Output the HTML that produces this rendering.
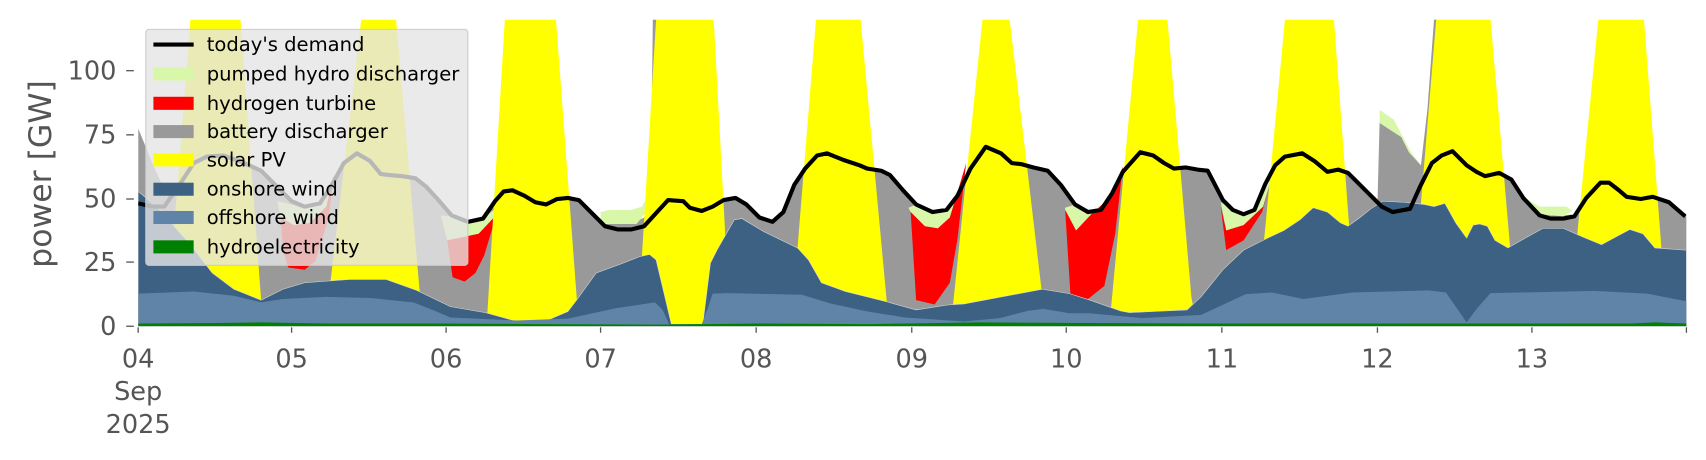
<!DOCTYPE html>
<html><head><meta charset="utf-8"><style>html,body{margin:0;padding:0;background:#fff}svg{display:block}</style></head>
<body>
<svg width="1706" height="460" viewBox="0 0 1568 423" preserveAspectRatio="none" xmlns="http://www.w3.org/2000/svg" font-family="DejaVu Sans, Liberation Sans, sans-serif">
<defs><clipPath id="c"><rect x="127" y="18" width="1423" height="282"/></clipPath></defs>
<g clip-path="url(#c)">
<polygon fill="#999999" points="127,118 140,150 151,175 165,168 178,150 190,144 205,143 220,148 240,157 255,172 268,185 280,190 294,187 305,170 316,150 328,141 340,148 350,160 358,161 370,162 382,164 392,172 403,184 415,198 430,204 444,201 455,185 463,176 471,175 482,180 492,186 502,188 512,183 522,182 532,184 544,196 556,206 568,206 580,206 592,200 598,185 600,18 604,18 614,184 628,185 634,191 645,194 655,190 665,184 676,182 686,188 698,200 710,204 720,195 730,170 740,155 751,143 760,141 775,147 790,152 797,155 810,157 818,161 830,175 842,188 857,195 870,193 880,180 892,155 906,135 920,141 930,150 939,151 950,154 963,157 975,170 988,188 1000,195 1012,193 1022,178 1032,158 1048,140 1060,143 1070,150 1079,155 1090,154 1101,156 1110,157 1124,184 1133,193 1143,197 1153,193 1163,169 1172,152 1181,144 1197,141 1208,148 1220,158 1230,156 1239,159 1248,168 1258,178 1266,188 1268,113 1288,126 1295,140 1306,152 1312,100 1318,18 1321,18 1325,143 1335,139 1348,152 1357,158 1365,162 1378,159 1389,165 1400,182 1415,195 1425,198 1437,198 1447,197 1458,182 1471,168 1479,168 1488,175 1495,181 1508,183 1519,181 1534,186 1549,199 1550,199 1550,300 127,300"/>
<g fill="#d9f7a9">
<polygon points="1268,101 1281,110 1291,129 1297,140 1306,152 1295,140 1288,126 1268,113"/>
<polygon points="552,195 560,193 580,193 590,190 597,178 598,190 585,206 560,206 552,205"/>
<polygon points="255,185 268,188 280,192 294,188 305,168 300,190 285,205 270,207 258,200"/>
<polygon points="405,198 415,199 430,204 444,201 455,192 454,200 440,215 411,221"/>
<polygon points="835,191 842,188 857,195 870,193 880,180 888,155 873,200 862,210 850,208 837,195"/>
<polygon points="979,191 988,188 1000,195 1012,193 1022,178 1032,153 1022,180 1004,196 989,212 979,193"/>
<polygon points="1122,186 1133,193 1143,197 1153,193 1163,169 1168,166 1161,190 1143,207 1127,212"/>
<polygon points="1395,178 1400,184 1415,197 1437,199 1445,194 1440,190 1415,190"/>
</g>
<g fill="#ff0000">
<polygon points="258,200 270,207 285,205 300,190 307,160 302,200 290,240 280,248 265,246 260,230"/>
<polygon points="411,221 440,215 454,200 454,205 445,235 437,251 427,259 416,255"/>
<polygon points="837,195 850,208 862,210 873,200 888,150 880,220 873,260 859,280 842,276"/>
<polygon points="979,193 989,212 1004,196 1022,180 1032,153 1025,215 1015,263 1000,275 984,273"/>
<polygon points="1122,190 1127,212 1143,207 1161,190 1168,166 1160,195 1143,221 1127,230"/>
</g>
<g fill="#ffff00">
<polygon points="175,18 221,18 240,276 245,300 150,300 160,210"/>
<polygon points="332,18 364,18 386,271 390,300 300,300 304,257"/>
<polygon points="464,18 511,18 530,273 532,300 446,300 448,287"/>
<polygon points="603,18 656,18 666,205 670,300 585,300 590,236"/>
<polygon points="750,18 791,18 815,277 818,300 728,300 733,228"/>
<polygon points="903,18 928,18 957,264 962,300 872,300 876,280"/>
<polygon points="1046,18 1073,18 1095,273 1100,300 1015,300 1021,285"/>
<polygon points="1181,18 1226,18 1240,208 1245,300 1158,300 1162,219"/>
<polygon points="1320,18 1370,18 1388,228 1392,300 1302,300 1306,187"/>
<polygon points="1469,18 1511,18 1527,228 1530,300 1446,300 1450,212"/>
</g>
<polygon fill="#3c6183" stroke="#d8d8d8" stroke-width="0.5" points="127,176 144,190 160,208 175,225 195,251 215,266 240,276 260,266 280,260 321,257 355,257 383,267 414,282 446,287.5 475,295.5 502,295 522,286.5 530,276 548,251 570,243 588,236 597,234 603,239 617,298 646,298 653,242 659,230 675,202 682,201 702,213 733,228 743,239 755,260 777,268 813,277 842,285 871,280.5 886,279.5 958,266 983,270 1001,275.7 1030,286 1038,287.5 1091,285 1104,272.8 1124,248 1143,230 1167,218 1180,212 1195,202 1207,191 1220,195 1232,205 1239,208 1250,200 1260,192 1271,185 1290,186 1309,188 1318,190 1328,187 1338,205 1348,219 1354,207 1360,206 1367,208 1374,221 1386,228 1400,220 1418,210 1437,210 1455,218 1472,225 1485,218 1498,211 1510,215 1521,228 1549,230 1550,230 1550,300 127,300"/>
<polygon fill="#5f84a8" points="127,270 178,268 215,272 240,278 260,275 300,273 340,274 380,278 400,286 414,292 475,294.7 522,293 566,283.5 602,278 609,285 615,298 645,298 650,285 655,270 668,269.6 737,271 763,279 795,286 832,292 886,295.6 919,292.5 944,286 959,284 983,288 1001,288 1050,292.5 1104,289.5 1145,270.5 1169,269 1198,275 1243,269 1313,267 1329,269 1348,296.5 1358,283 1370,269.6 1411,268.7 1465,267.5 1514,270 1550,277 1550,300 127,300"/>
<polygon fill="#008000" points="127,297.5 200,297 240,296.5 300,297.5 400,297.5 500,298 600,298.5 700,297.5 800,298 900,296.5 1000,297 1100,297.5 1200,297.5 1300,297.5 1400,297.5 1500,297.5 1520,296.5 1550,297.5 1550,300 127,300"/>
<polyline fill="none" stroke="#000" stroke-width="3.8" stroke-linejoin="round" points="127,187 140,190 151,190 165,170 178,150 190,144 205,143 220,148 240,157 255,172 268,185 280,190 294,187 305,170 316,150 328,141 340,148 350,160 358,161 370,162 382,164 392,172 403,184 415,198 430,204 444,201 455,185 463,176 471,175 482,180 492,186 502,188 512,183 522,182 532,184 544,196 556,208 568,211 580,211 592,208 603,196 614,184 628,185 634,191 645,194 655,190 665,184 676,182 686,188 698,200 710,204 720,195 730,170 740,155 751,143 760,141 775,147 790,152 797,155 810,157 818,161 830,175 842,188 857,195 870,193 880,180 892,155 906,135 920,141 930,150 939,151 950,154 963,157 975,170 988,188 1000,195 1012,193 1022,178 1032,158 1048,140 1060,143 1070,150 1079,155 1090,154 1101,156 1110,157 1124,184 1133,193 1143,197 1153,193 1163,169 1172,152 1181,144 1197,141 1208,148 1220,158 1230,156 1239,159 1248,168 1258,178 1270,190 1280,195 1296,192 1305,172 1316,150 1325,143 1335,139 1348,152 1357,158 1365,162 1378,159 1389,165 1400,182 1415,198 1425,201 1437,201 1447,199 1458,182 1471,168 1479,168 1488,175 1495,181 1508,183 1519,181 1534,186 1549,199"/>
</g>
<rect x="134" y="27" width="296" height="217" rx="3" fill="#e5e5e5" fill-opacity="0.8" stroke="#cccccc" stroke-width="1"/>
<line x1="141" y1="41" x2="178" y2="41" stroke="#000" stroke-width="3.8"/>
<rect x="141" y="62" width="37" height="12" fill="#d9f7a9"/>
<rect x="141" y="89" width="37" height="12" fill="#ff0000"/>
<rect x="141" y="115" width="37" height="12" fill="#999999"/>
<rect x="141" y="141" width="37" height="12" fill="#ffff00"/>
<rect x="141" y="168" width="37" height="12" fill="#3c6183"/>
<rect x="141" y="194" width="37" height="12" fill="#5f84a8"/>
<rect x="141" y="221" width="37" height="12" fill="#008000"/>
<g font-size="18" fill="#000">
<text x="190" y="47">today's demand</text>
<text x="190" y="74">pumped hydro discharger</text>
<text x="190" y="101">hydrogen turbine</text>
<text x="190" y="127">battery discharger</text>
<text x="190" y="153">solar PV</text>
<text x="190" y="180">onshore wind</text>
<text x="190" y="206">offshore wind</text>
<text x="190" y="233">hydroelectricity</text>
</g>
<g stroke="#555" stroke-width="1.2">
<line x1="116" y1="300" x2="123" y2="300"/><line x1="116" y1="241" x2="123" y2="241"/><line x1="116" y1="183" x2="123" y2="183"/><line x1="116" y1="124" x2="123" y2="124"/><line x1="116" y1="65" x2="123" y2="65"/>
<line x1="127" y1="301" x2="127" y2="306"/><line x1="268" y1="301" x2="268" y2="306"/><line x1="410" y1="301" x2="410" y2="306"/><line x1="552" y1="301" x2="552" y2="306"/><line x1="695" y1="301" x2="695" y2="306"/><line x1="838" y1="301" x2="838" y2="306"/><line x1="980" y1="301" x2="980" y2="306"/><line x1="1123" y1="301" x2="1123" y2="306"/><line x1="1266" y1="301" x2="1266" y2="306"/><line x1="1408" y1="301" x2="1408" y2="306"/><line x1="1550" y1="301" x2="1550" y2="306"/>
</g>
<g font-size="23.5" fill="#555" text-anchor="end">
<text x="107" y="308">0</text><text x="107" y="249">25</text><text x="107" y="191">50</text><text x="107" y="132">75</text><text x="107" y="73">100</text>
</g>
<g font-size="23.5" fill="#555" text-anchor="middle">
<text x="127" y="338">04</text><text x="127" y="368">Sep</text><text x="127" y="398">2025</text>
<text x="268" y="338">05</text><text x="410" y="338">06</text><text x="552" y="338">07</text><text x="695" y="338">08</text><text x="838" y="338">09</text><text x="980" y="338">10</text><text x="1123" y="338">11</text><text x="1266" y="338">12</text><text x="1408" y="338">13</text>
</g>
<text transform="translate(47,160) rotate(-90)" font-size="29" fill="#555" text-anchor="middle">power [GW]</text>
</svg>
</body></html>
